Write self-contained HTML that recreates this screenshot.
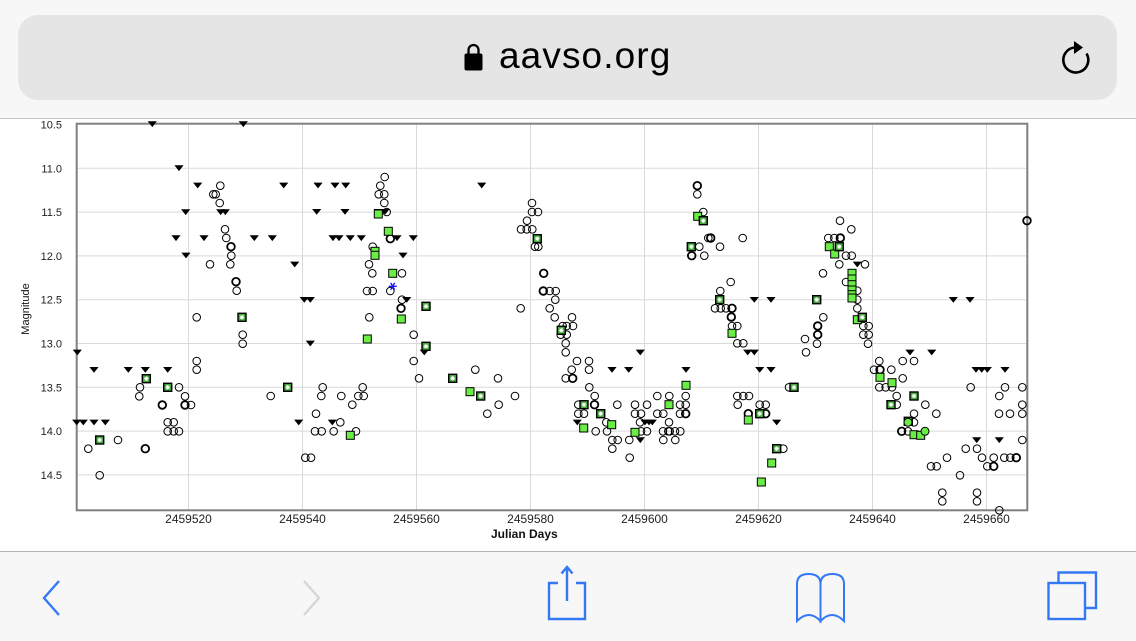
<!DOCTYPE html>
<html><head><meta charset="utf-8"><style>
html,body{margin:0;padding:0;width:1136px;height:640px;overflow:hidden;background:#fff;font-family:"Liberation Sans",Arial,sans-serif;}
#top{position:absolute;left:0;top:0;width:1136px;height:118px;background:#f7f7f7;border-bottom:1px solid #c6c6c6;}
#field{position:absolute;left:18px;top:15px;width:1099px;height:85px;background:#e5e5e6;border-radius:20px;}
#url{position:absolute;left:499px;top:34px;font-size:37px;letter-spacing:1.1px;color:#000;line-height:44px;}
#bot{position:absolute;left:0;top:551px;width:1136px;height:89px;background:#f7f7f7;border-top:1px solid #b4b4b4;}
svg{position:absolute;left:0;top:0;}
</style></head><body>
<div id="top"><div id="field"></div><div id="url">aavso.org</div></div>
<div id="bot"></div>
<svg width="1136" height="640" viewBox="0 0 1136 640" xmlns="http://www.w3.org/2000/svg">
<defs>
<path id="t" d="M-4.6-2.7H4.6L0 3.1Z" fill="#000"/>
<circle id="c" r="3.8" fill="none" stroke="#000" stroke-width="1"/>
<circle id="k" r="3.8" fill="none" stroke="#000" stroke-width="1.8"/>
<rect id="g" x="-4" y="-4" width="8" height="8" fill="#6aee46" stroke="#000" stroke-width="1"/>
<g id="d"><rect x="-4" y="-4" width="8" height="8" fill="#44a83a" stroke="#000" stroke-width="1.4"/><path d="M-2.3 0H2.3M0-2.3V2.3M-1.6-1.6L1.6 1.6M-1.6 1.6L1.6-1.6" stroke="#fff" stroke-width="0.9"/></g>
<circle id="gc" r="4" fill="#6aee46" stroke="#000" stroke-width="1"/>
</defs>
<!-- lock -->
<rect x="464.5" y="53.5" width="18" height="17" rx="2" fill="#000"/>
<path d="M468.5 54V50a5 5 0 0 1 10 0V54" fill="none" stroke="#000" stroke-width="2.3"/>
<!-- reload -->
<path d="M1086.5 53.5A12.5 12.5 0 1 1 1075 47.5" fill="none" stroke="#000" stroke-width="2.6"/>
<path d="M1074 41L1083 47.5L1074 54Z" fill="#000"/>
<!-- gridlines -->
<g stroke="#d9d9d9" stroke-width="1" fill="none">
<path d="M77 168.3H1027M77 212.1H1027M77 255.9H1027M77 299.7H1027M77 343.5H1027M77 387.3H1027M77 431.1H1027M77 474.9H1027"/>
<path d="M188.5 124V510M302.5 124V510M416.5 124V510M530.5 124V510M644.5 124V510M758.5 124V510M872.5 124V510M986.5 124V510"/>
</g>
<rect x="76.7" y="123.7" width="950.6" height="386.6" fill="none" stroke="#808080" stroke-width="2"/>
<!-- y labels -->
<g font-family="Liberation Sans,Arial,sans-serif" font-size="11" fill="#222" text-anchor="end">
<text x="62" y="128.5">10.5</text><text x="62" y="172.3">11.0</text><text x="62" y="216.1">11.5</text><text x="62" y="259.9">12.0</text><text x="62" y="303.7">12.5</text><text x="62" y="347.5">13.0</text><text x="62" y="391.3">13.5</text><text x="62" y="435.1">14.0</text><text x="62" y="478.9">14.5</text>
</g>
<g font-family="Liberation Sans,Arial,sans-serif" font-size="12" fill="#222" text-anchor="middle">
<text x="188.5" y="523">2459520</text><text x="302.5" y="523">2459540</text><text x="416.5" y="523">2459560</text><text x="530.5" y="523">2459580</text><text x="644.5" y="523">2459600</text><text x="758.5" y="523">2459620</text><text x="872.5" y="523">2459640</text><text x="986.5" y="523">2459660</text>
</g>
<text x="491" y="538" font-family="Liberation Sans,Arial,sans-serif" font-size="12" font-weight="bold" fill="#111">Julian Days</text>
<text transform="translate(29,309) rotate(-90)" text-anchor="middle" font-family="Liberation Sans,Arial,sans-serif" font-size="11" fill="#111">Magnitude</text>
<!-- triangles -->
<g>
<use href="#t" x="152.3" y="124"/><use href="#t" x="243.3" y="124"/><use href="#t" x="179" y="168"/><use href="#t" x="197.7" y="185.3"/><use href="#t" x="185.7" y="212"/><use href="#t" x="220.7" y="212"/><use href="#t" x="225.3" y="212"/><use href="#t" x="176" y="238"/><use href="#t" x="204" y="238"/><use href="#t" x="186" y="255.3"/><use href="#t" x="77.3" y="352.3"/><use href="#t" x="94" y="369.7"/><use href="#t" x="128.3" y="369.7"/><use href="#t" x="145.3" y="369.7"/><use href="#t" x="167.7" y="369.7"/><use href="#t" x="76.7" y="422.3"/><use href="#t" x="83.3" y="422.3"/><use href="#t" x="94" y="422.3"/><use href="#t" x="105.3" y="422.3"/>
<use href="#t" x="283.7" y="185.3"/><use href="#t" x="318" y="185.3"/><use href="#t" x="335" y="185.3"/><use href="#t" x="345.7" y="185.3"/><use href="#t" x="316.7" y="211.7"/><use href="#t" x="345" y="211.7"/><use href="#t" x="378.3" y="211.7"/><use href="#t" x="385" y="211.7"/><use href="#t" x="254.3" y="238"/><use href="#t" x="272.3" y="238"/><use href="#t" x="333" y="238"/><use href="#t" x="339" y="238"/><use href="#t" x="350.3" y="238"/><use href="#t" x="361.3" y="238"/><use href="#t" x="397" y="238"/><use href="#t" x="413.3" y="238"/><use href="#t" x="403" y="255.3"/><use href="#t" x="294.7" y="264.3"/><use href="#t" x="304.3" y="299.7"/><use href="#t" x="310.3" y="299.7"/><use href="#t" x="406.7" y="299.7"/><use href="#t" x="310.3" y="343.3"/><use href="#t" x="424.3" y="352.3"/><use href="#t" x="298.7" y="422.3"/><use href="#t" x="332.3" y="422.3"/>
<use href="#t" x="481.7" y="185.3"/><use href="#t" x="577.3" y="422.3"/><use href="#t" x="640.3" y="352.3"/><use href="#t" x="612" y="369.7"/><use href="#t" x="628.7" y="369.7"/><use href="#t" x="686" y="369.7"/><use href="#t" x="754.3" y="299.7"/><use href="#t" x="771" y="299.7"/><use href="#t" x="747.7" y="352.3"/><use href="#t" x="754.3" y="352.3"/><use href="#t" x="759.7" y="369.7"/><use href="#t" x="771" y="369.7"/><use href="#t" x="645" y="422.3"/><use href="#t" x="649" y="422.3"/><use href="#t" x="652.3" y="422.3"/><use href="#t" x="640.3" y="440"/><use href="#t" x="776.7" y="422.3"/>
<use href="#t" x="857.3" y="264.3"/><use href="#t" x="910" y="352.3"/><use href="#t" x="931.7" y="352.3"/><use href="#t" x="953.3" y="299.7"/><use href="#t" x="970" y="299.7"/><use href="#t" x="976" y="369.7"/><use href="#t" x="981.7" y="369.7"/><use href="#t" x="987.3" y="369.7"/><use href="#t" x="1005" y="369.7"/><use href="#t" x="976.7" y="440"/><use href="#t" x="999.3" y="440"/>
</g>
<!-- circles -->
<g>
<use href="#c" x="220.3" y="185.7"/><use href="#c" x="213.3" y="194.3"/><use href="#c" x="215.7" y="194.3"/><use href="#c" x="219.7" y="203"/><use href="#c" x="225" y="229.3"/><use href="#c" x="226.3" y="238"/><use href="#k" x="231" y="246.7"/><use href="#c" x="231.3" y="255.7"/><use href="#c" x="210" y="264.3"/><use href="#c" x="230.3" y="264.3"/><use href="#k" x="236" y="281.7"/><use href="#c" x="236.7" y="290.7"/><use href="#c" x="196.7" y="317.3"/><use href="#c" x="242.7" y="334.7"/><use href="#c" x="242.7" y="343.7"/><use href="#c" x="196.7" y="361"/><use href="#c" x="196.7" y="369.7"/><use href="#c" x="140" y="387.3"/><use href="#c" x="179" y="387.3"/><use href="#c" x="139.3" y="396.3"/><use href="#c" x="185" y="396.3"/><use href="#k" x="162.3" y="405"/><use href="#k" x="185" y="405"/><use href="#c" x="191" y="405"/><use href="#c" x="167.7" y="422.3"/><use href="#c" x="173.7" y="422.3"/><use href="#c" x="167.7" y="431.3"/><use href="#c" x="173.7" y="431.3"/><use href="#c" x="179" y="431.3"/><use href="#c" x="118" y="440"/><use href="#c" x="88.3" y="448.7"/><use href="#k" x="145.3" y="448.7"/><use href="#c" x="99.7" y="475.3"/>
<use href="#c" x="384.7" y="177"/><use href="#c" x="380.3" y="185.7"/><use href="#c" x="378.7" y="194.3"/><use href="#c" x="384.3" y="194.3"/><use href="#c" x="384.3" y="203"/><use href="#c" x="386.7" y="212"/><use href="#k" x="390.3" y="238.7"/><use href="#c" x="372.7" y="246.7"/><use href="#c" x="369" y="264.3"/><use href="#c" x="372.3" y="273.3"/><use href="#c" x="402" y="273.3"/><use href="#c" x="367" y="291"/><use href="#c" x="372.7" y="291"/><use href="#c" x="390.3" y="291"/><use href="#c" x="402" y="299.7"/><use href="#k" x="401" y="308.3"/><use href="#c" x="369.3" y="317.3"/><use href="#c" x="413.7" y="334.7"/><use href="#c" x="413.7" y="361"/><use href="#c" x="419" y="378.3"/><use href="#c" x="322.7" y="387.3"/><use href="#c" x="362.7" y="387.3"/><use href="#c" x="270.7" y="396"/><use href="#c" x="321.3" y="396"/><use href="#c" x="341.3" y="396"/><use href="#c" x="358.3" y="396"/><use href="#c" x="363.7" y="396"/><use href="#c" x="352.3" y="404.7"/><use href="#c" x="316" y="413.7"/><use href="#c" x="340.3" y="422.3"/><use href="#c" x="315" y="431.3"/><use href="#c" x="321.7" y="431.3"/><use href="#c" x="333.7" y="431.3"/><use href="#c" x="356" y="431.3"/><use href="#c" x="305.3" y="457.7"/><use href="#c" x="311" y="457.7"/>
<use href="#c" x="532" y="203"/><use href="#c" x="532" y="212"/><use href="#c" x="538" y="212"/><use href="#c" x="527" y="220.7"/><use href="#c" x="521" y="229.3"/><use href="#c" x="526.7" y="229.3"/><use href="#c" x="532.3" y="229.3"/><use href="#c" x="535" y="246.7"/><use href="#c" x="538.3" y="246.7"/><use href="#k" x="543.7" y="273.3"/><use href="#k" x="543.3" y="291"/><use href="#c" x="549.7" y="291"/><use href="#c" x="555.7" y="291"/><use href="#c" x="555.3" y="299.7"/><use href="#c" x="520.7" y="308.3"/><use href="#c" x="549.7" y="308.3"/><use href="#c" x="554.7" y="317.3"/><use href="#c" x="572" y="317.3"/><use href="#c" x="562.7" y="326"/><use href="#c" x="566.7" y="326"/><use href="#c" x="573" y="326"/><use href="#c" x="560.7" y="334.7"/><use href="#c" x="566.7" y="334.7"/><use href="#c" x="565.7" y="343.3"/><use href="#c" x="565.7" y="352.3"/><use href="#c" x="577" y="361"/><use href="#c" x="589" y="361"/><use href="#c" x="571.7" y="369.7"/><use href="#c" x="589" y="369.7"/><use href="#c" x="475.3" y="369.7"/><use href="#c" x="498" y="378.3"/><use href="#c" x="565.7" y="378.3"/><use href="#k" x="572.7" y="378.3"/><use href="#c" x="589.3" y="387.3"/><use href="#c" x="515" y="396"/><use href="#c" x="594.7" y="396"/><use href="#c" x="498.7" y="404.7"/><use href="#c" x="578.3" y="404.7"/><use href="#k" x="594.5" y="404.7"/><use href="#c" x="487.3" y="413.7"/><use href="#c" x="578.3" y="413.7"/><use href="#c" x="584" y="413.7"/><use href="#c" x="595.7" y="431.3"/>
<use href="#k" x="697.3" y="185.7"/><use href="#c" x="697.3" y="194.3"/><use href="#c" x="703.3" y="212"/><use href="#c" x="708.3" y="238"/><use href="#k" x="710.7" y="238"/><use href="#c" x="742.7" y="238"/><use href="#c" x="699.3" y="246.7"/><use href="#c" x="720" y="246.7"/><use href="#k" x="691.7" y="255.7"/><use href="#c" x="704.3" y="255.7"/><use href="#c" x="730.7" y="282"/><use href="#c" x="720.3" y="291"/><use href="#c" x="715" y="308.3"/><use href="#c" x="720.7" y="308.3"/><use href="#c" x="726" y="308.3"/><use href="#k" x="732" y="308.3"/><use href="#k" x="731.3" y="317"/><use href="#c" x="732" y="326"/><use href="#c" x="737.3" y="326"/><use href="#c" x="737.3" y="343.3"/><use href="#c" x="743.3" y="343.3"/><use href="#c" x="657.3" y="396"/><use href="#c" x="669.3" y="396"/><use href="#c" x="685.7" y="396"/><use href="#c" x="737.3" y="396"/><use href="#c" x="743.3" y="396"/><use href="#c" x="749" y="396"/><use href="#c" x="617.3" y="404.7"/><use href="#c" x="635" y="404.7"/><use href="#c" x="647" y="404.7"/><use href="#c" x="680" y="404.7"/><use href="#c" x="685.7" y="404.7"/><use href="#c" x="737.7" y="404.7"/><use href="#c" x="759.7" y="404.7"/><use href="#c" x="765.7" y="404.7"/><use href="#c" x="635" y="413.7"/><use href="#c" x="641" y="413.7"/><use href="#c" x="657.3" y="413.7"/><use href="#c" x="663.3" y="413.7"/><use href="#c" x="680" y="413.7"/><use href="#k" x="685.7" y="413.7"/><use href="#k" x="748.3" y="413.7"/><use href="#k" x="765.7" y="413.7"/><use href="#c" x="606.3" y="422.3"/><use href="#c" x="640" y="422.3"/><use href="#c" x="669" y="422.3"/><use href="#c" x="607" y="431.3"/><use href="#c" x="641" y="431.3"/><use href="#c" x="647" y="431.3"/><use href="#c" x="663" y="431.3"/><use href="#c" x="668.3" y="431.3"/><use href="#c" x="669.7" y="431.3"/><use href="#c" x="675" y="431.3"/><use href="#c" x="680.3" y="431.3"/><use href="#c" x="612.3" y="440"/><use href="#c" x="617.7" y="440"/><use href="#c" x="629.3" y="440"/><use href="#c" x="663.3" y="440"/><use href="#c" x="675.3" y="440"/><use href="#c" x="612.3" y="448.7"/><use href="#c" x="629.7" y="457.7"/>
<use href="#c" x="840" y="220.7"/><use href="#c" x="851.3" y="229.3"/><use href="#c" x="828.3" y="238"/><use href="#c" x="834.3" y="238"/><use href="#k" x="840.3" y="238"/><use href="#c" x="846" y="255.7"/><use href="#c" x="851.7" y="255.7"/><use href="#c" x="839.3" y="264.3"/><use href="#c" x="865" y="264.3"/><use href="#c" x="823" y="273.3"/><use href="#c" x="846" y="282"/><use href="#c" x="857.3" y="290.7"/><use href="#c" x="857.3" y="299.7"/><use href="#c" x="857.3" y="308.3"/><use href="#c" x="823.3" y="317.3"/><use href="#k" x="817.7" y="326"/><use href="#c" x="863.3" y="326"/><use href="#c" x="868.7" y="326"/><use href="#k" x="817.7" y="334.7"/><use href="#c" x="863.3" y="334.7"/><use href="#c" x="868.7" y="334.7"/><use href="#c" x="805" y="339"/><use href="#c" x="817" y="343.7"/><use href="#c" x="868" y="343.7"/><use href="#c" x="806" y="352.3"/><use href="#c" x="879.3" y="361"/><use href="#c" x="902.7" y="361"/><use href="#c" x="914" y="361"/><use href="#c" x="874" y="369.7"/><use href="#k" x="880" y="369.7"/><use href="#c" x="891.3" y="369.7"/><use href="#c" x="902.7" y="378.3"/><use href="#c" x="879.3" y="387.3"/><use href="#c" x="885.7" y="387.3"/><use href="#c" x="892" y="387.3"/><use href="#c" x="789" y="387.3"/><use href="#c" x="896.7" y="396"/><use href="#c" x="925.3" y="404.7"/><use href="#c" x="896.7" y="404.7"/><use href="#c" x="914" y="413.7"/><use href="#c" x="936.3" y="413.7"/><use href="#c" x="914" y="422.3"/><use href="#k" x="901.7" y="431.3"/><use href="#c" x="908" y="431.3"/><use href="#c" x="783.3" y="448.7"/><use href="#c" x="947" y="457.7"/><use href="#c" x="931" y="466.3"/><use href="#c" x="936.7" y="466.3"/><use href="#c" x="942.3" y="492.7"/><use href="#c" x="942.3" y="501.3"/>
<use href="#k" x="1027" y="220.7"/><use href="#c" x="970.7" y="387.3"/><use href="#c" x="1005" y="387.3"/><use href="#c" x="1022.3" y="387.3"/><use href="#c" x="999.3" y="396"/><use href="#c" x="1022.3" y="404.7"/><use href="#c" x="999" y="413.7"/><use href="#c" x="1010" y="413.7"/><use href="#c" x="1022.3" y="413.7"/><use href="#c" x="1022.3" y="440"/><use href="#c" x="965.7" y="448.7"/><use href="#c" x="977" y="448.7"/><use href="#c" x="982" y="457.7"/><use href="#c" x="993.7" y="457.7"/><use href="#c" x="1004.3" y="457.7"/><use href="#c" x="1010.3" y="457.7"/><use href="#k" x="1016.3" y="457.7"/><use href="#c" x="987.3" y="466.3"/><use href="#k" x="993.7" y="466.3"/><use href="#c" x="960" y="475.3"/><use href="#c" x="977" y="492.7"/><use href="#c" x="977" y="501.3"/><use href="#c" x="999.3" y="510.3"/>
</g>
<!-- squares -->
<g>
<use href="#d" x="242" y="317.3"/><use href="#d" x="146.3" y="378.7"/><use href="#d" x="167.7" y="387.3"/><use href="#d" x="99.7" y="440"/>
<use href="#g" x="378.3" y="214"/><use href="#g" x="388.3" y="231.3"/><use href="#g" x="375" y="251.3"/><use href="#g" x="375" y="255.3"/><use href="#g" x="392.7" y="273.3"/><use href="#g" x="401.3" y="319"/><use href="#g" x="367.3" y="339"/><use href="#g" x="350.3" y="435.3"/>
<use href="#d" x="287.7" y="387.3"/><use href="#d" x="426" y="306.3"/><use href="#d" x="426" y="346.3"/>
<use href="#d" x="537.3" y="238.7"/><use href="#d" x="452.7" y="378.3"/><use href="#d" x="480.7" y="396"/><use href="#d" x="561.3" y="330.3"/><use href="#d" x="584" y="404.7"/><use href="#d" x="600.7" y="413.7"/>
<use href="#g" x="470" y="391.7"/><use href="#g" x="583.7" y="428"/>
<use href="#g" x="697.7" y="216.3"/><use href="#g" x="732" y="333.3"/><use href="#g" x="686" y="385.3"/><use href="#g" x="669" y="404.7"/><use href="#g" x="611.7" y="424.7"/><use href="#g" x="635" y="432.3"/><use href="#g" x="748.3" y="420"/><use href="#g" x="771.7" y="463"/><use href="#g" x="761.3" y="482"/>
<use href="#d" x="703.3" y="220.7"/><use href="#d" x="691.3" y="246.7"/><use href="#d" x="719.7" y="299.7"/><use href="#d" x="759.7" y="413.7"/><use href="#d" x="776.7" y="448.7"/>
<use href="#g" x="829.3" y="246.7"/><use href="#g" x="834.7" y="254"/><use href="#g" x="852" y="273.3"/><use href="#g" x="852" y="279"/><use href="#g" x="852" y="284.7"/><use href="#g" x="852" y="290"/><use href="#g" x="852" y="294.7"/><use href="#g" x="852" y="298"/><use href="#g" x="857.3" y="319.7"/><use href="#g" x="880" y="377.3"/><use href="#g" x="892" y="382.7"/><use href="#g" x="914" y="434.7"/><use href="#g" x="920.7" y="435.3"/>
<use href="#d" x="839.3" y="246.7"/><use href="#d" x="816.7" y="299.7"/><use href="#d" x="862.3" y="317.3"/><use href="#d" x="794" y="387.3"/><use href="#d" x="891" y="404.7"/><use href="#d" x="914" y="396"/><use href="#d" x="908.3" y="421.3"/>
<use href="#gc" x="908" y="422.3"/><use href="#gc" x="925" y="431.3"/>
</g>
<path d="M388.7 286.3H396.7M390.7 282.8L394.7 289.8M390.7 289.8L394.7 282.8" stroke="#1a1aff" stroke-width="1.4"/>
<!-- toolbar icons -->
<g fill="none" stroke="#3478f6" stroke-width="2.4" stroke-linejoin="miter">
<path d="M59 581L44 598L59 615"/>
<path d="M558 583H549V619H585V583H576"/>
<path d="M567 601V567M561.5 573.5L567 567L572.5 573.5"/>
<path d="M820.5 584Q820.5 574 808.5 574Q797 574 797 584V621Q809 609 820.5 621Z" stroke-width="2"/>
<path d="M820.5 584Q820.5 574 832.5 574Q844 574 844 584V621Q832 609 820.5 621Z" stroke-width="2"/>
<path d="M1058.5 583V572.5H1096V608H1086"/>
<rect x="1048.5" y="583" width="36.5" height="36"/>
</g>
<path d="M304 581L319 598L304 615" fill="none" stroke="#d6d6d6" stroke-width="2.4"/>
</svg>
</body></html>
